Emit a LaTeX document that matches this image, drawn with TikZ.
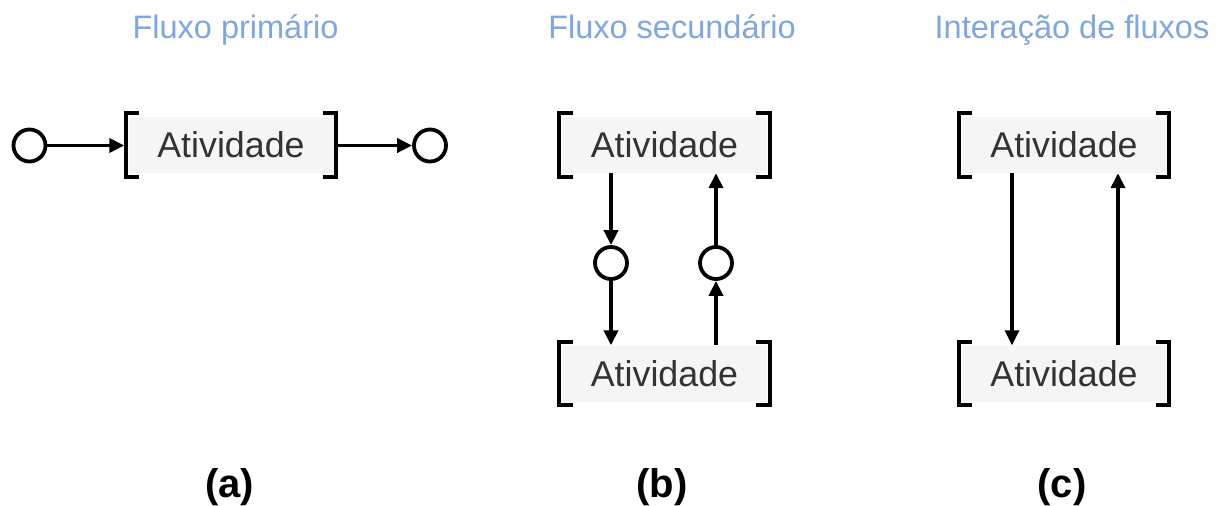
\documentclass[tikz,border=0pt]{standalone}
\usepackage{fontspec}
\setmainfont{Liberation Sans}
\usetikzlibrary{arrows.meta}
\definecolor{titleblue}{HTML}{7EA6E0}
\definecolor{boxgray}{HTML}{F5F5F5}
\definecolor{txtgray}{HTML}{333333}
\tikzset{
  ativ/.style={rectangle, fill=boxgray, minimum width=205pt, minimum height=56pt, inner sep=0pt,
    text=txtgray, font=\fontsize{35.8}{40}\selectfont},
  evt/.style={circle, draw=black, line width=3.8pt, minimum size=32pt, inner sep=0pt, fill=white},
  flow/.style={line width=3.8pt, -{Triangle[length=15pt,width=14pt]}},
  brk/.style={line width=4pt, draw=black},
  ttl/.style={text=titleblue, font=\fontsize{32.5}{36}\selectfont, anchor=base},
  lbl/.style={font=\fontsize{40}{44}\selectfont\bfseries, anchor=base}
}
\newcommand{\brackets}[1]{%
  \draw[brk] ([xshift=11pt,yshift=3.5pt]#1.north west) -- ([xshift=-2.5pt,yshift=3.5pt]#1.north west)
     -- ([xshift=-2.5pt,yshift=-3.5pt]#1.south west) -- ([xshift=11pt,yshift=-3.5pt]#1.south west);
  \draw[brk] ([xshift=-11pt,yshift=3.5pt]#1.north east) -- ([xshift=2.5pt,yshift=3.5pt]#1.north east)
     -- ([xshift=2.5pt,yshift=-3.5pt]#1.south east) -- ([xshift=-11pt,yshift=-3.5pt]#1.south east);
}
\begin{document}
\begin{tikzpicture}[x=1pt,y=-1pt]
\useasboundingbox (0,0) rectangle (1224,506);
% titles
\node[ttl] (ta) at (235.5,38) {Fluxo primário};
\node[ttl] (tb) at (672,38) {Fluxo secundário};
\node[ttl] (tc) at (1072,38) {Interação de fluxos};
% (a)
\node[ativ] (a1) at (231,145) {Atividade};
\brackets{a1}
\node[evt] (ca1) at (29.5,145.5) {};
\node[evt] (ca2) at (430,145.5) {};
\draw[flow] (ca1.east) -- ([xshift=-4pt]a1.west |- ca1);
\draw[flow] ([xshift=4pt]a1.east |- ca2) -- (ca2.west);
% (b)
\node[ativ] (b1) at (664.5,145) {Atividade};
\node[ativ] (b2) at (664.5,373.5) {Atividade};
\brackets{b1}
\brackets{b2}
\node[evt] (cb1) at (611,263) {};
\node[evt] (cb2) at (716,263) {};
\draw[flow] (b1.south -| cb1) -- (cb1.north);
\draw[flow] (cb1.south) -- (b2.north -| cb1);
\draw[flow] (b2.north -| cb2) -- (cb2.south);
\draw[flow] (cb2.north) -- (b1.south -| cb2);
% (c)
\node[ativ] (c1) at (1064,145) {Atividade};
\node[ativ] (c2) at (1064,373.5) {Atividade};
\brackets{c1}
\brackets{c2}
\coordinate (cl) at (1012,0);
\coordinate (cr) at (1118,0);
\draw[flow, line width=3.2pt] (c1.south -| cl) -- (c2.north -| cl);
\draw[flow, line width=4.3pt] (c2.north -| cr) -- (c1.south -| cr);
% labels
\node[lbl] (la) at (229.5,497) {(a)};
\node[lbl] (lb) at (662,497) {(b)};
\node[lbl] (lc) at (1062,497) {(c)};
\end{tikzpicture}
\end{document}
